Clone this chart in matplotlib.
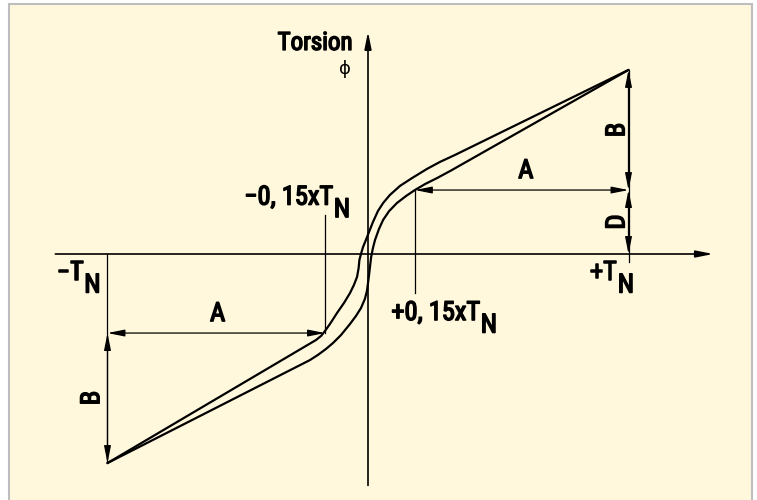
import os
import matplotlib
matplotlib.use("Agg")
import matplotlib.pyplot as plt
from matplotlib.patches import Rectangle, FancyArrowPatch
from matplotlib import font_manager
from matplotlib.font_manager import FontProperties
import matplotlib.patheffects as pe

# ---------------- data (T in units of T_N, phi in same drawing units) ----------------
T_N = [-1.0, 1.0]
corner_phi = [-0.804, 0.708]          # torsion at -T_N / +T_N
knee_T = [-0.165, 0.180]              # about -0.15 T_N / +0.15 T_N
knee_phi = [-0.304, 0.246]

# upper-left branch of the characteristic
upper_T = [-1.0, -0.200, -0.180, -0.165, -0.146, -0.119, -0.092, -0.069, -0.054,
           -0.042, -0.036, -0.033, -0.027, -0.019, -0.008, 0.004, 0.019, 0.038,
           0.058, 0.084, 0.123, 0.169, 0.226, 0.276, 0.334, 1.0]
upper_phi = [-0.804, -0.331, -0.315, -0.296, -0.269, -0.227, -0.188, -0.150, -0.119,
             -0.088, -0.054, -0.023, 0.000, 0.027, 0.054, 0.085, 0.123, 0.165,
             0.196, 0.227, 0.262, 0.292, 0.327, 0.354, 0.381, 0.708]
# lower-right branch
lower_T = [-1.0, -0.223, -0.192, -0.161, -0.134, -0.104, -0.069, -0.046, -0.027,
           -0.012, -0.004, 0.000, 0.004, 0.008, 0.012, 0.019, 0.027, 0.042, 0.058,
           0.081, 0.111, 0.146, 0.180, 0.219, 0.265, 0.315, 1.0]
lower_phi = [-0.804, -0.408, -0.388, -0.365, -0.342, -0.312, -0.269, -0.238, -0.208,
             -0.173, -0.142, -0.112, -0.081, -0.046, -0.012, 0.023, 0.054, 0.096, 0.131,
             0.165, 0.196, 0.223, 0.246, 0.269, 0.292, 0.319, 0.708]

x_axis = [-1.20, 1.325]
y_axis = [-0.89, 0.855]

# ---------------- fonts: look for a narrow sans ----------------
def find_font():
    files = {}
    for f in font_manager.fontManager.ttflist:
        key = os.path.basename(f.fname).lower().replace(" ", "").replace("_", "").replace("-", "")
        files[key] = f.fname
    prefs = ["robotocondensedregular", "robotocondensed", "liberationsansnarrowregular",
             "liberationsansnarrow", "notosanscondensedmedium", "notosanscondensed",
             "opensanscondensedregular", "dejavusanscondensed"]
    for p in prefs:
        for k, v in files.items():
            if k.startswith(p) and "italic" not in k and "oblique" not in k:
                return v
    for k, v in files.items():
        if ("condensed" in k or "narrow" in k) and "italic" not in k and "oblique" not in k \
                and "bold" not in k and "light" not in k and "thin" not in k:
            return v
    return None

FONT_FILE = find_font()

def fp(size):
    if FONT_FILE:
        return FontProperties(fname=FONT_FILE, size=size)
    return FontProperties(family="DejaVu Sans", stretch="condensed", size=size)

fig = plt.figure(figsize=(7.57, 5.0), dpi=100)
fig.patch.set_facecolor("white")
fig.add_artist(Rectangle((9 / 757, -0.02), (752 - 9) / 757, (500 - 4) / 500 + 0.02,
                         transform=fig.transFigure, facecolor="#FFF8DC",
                         edgecolor="#BEBEBE", lw=1.5, zorder=0))
ax = fig.add_axes([0, 0, 1, 1])
ax.set_xlim(-368 / 260.5, (757 - 368) / 260.5)
ax.set_ylim((254 - 500) / 260, 254 / 260)
ax.axis("off")
ax.patch.set_visible(False)

K = "black"

def arrow(p1, p2, style, lw=0.9, ms=12):
    ax.add_patch(FancyArrowPatch(p1, p2, arrowstyle=style, mutation_scale=ms,
                                 lw=lw, color=K, shrinkA=0, shrinkB=0))

HEAD = "head_length=0.85,head_width=0.17"
# coordinate axes
arrow((x_axis[0], 0), (x_axis[1], 0), "-|>," + HEAD, lw=1.2)
arrow((0, y_axis[0]), (0, y_axis[1]), "-|>," + HEAD, lw=1.2)

# characteristic curves
ax.plot(upper_T, upper_phi, color=K, lw=1.6, solid_joinstyle="round", solid_capstyle="round")
ax.plot(lower_T, lower_phi, color=K, lw=1.6, solid_joinstyle="round", solid_capstyle="round")

# extension lines
ax.plot([T_N[1], T_N[1]], [corner_phi[1], -0.03], color=K, lw=0.9)
ax.plot([T_N[0], T_N[0]], [0, corner_phi[0]], color=K, lw=0.9)
ax.plot([knee_T[1], knee_T[1]], [knee_phi[1], -0.15], color=K, lw=0.9)
ax.plot([knee_T[0], knee_T[0]], [0.15, knee_phi[0]], color=K, lw=0.9)

# dimension arrows
D2 = "<|-|>," + HEAD
arrow((knee_T[1], knee_phi[1]), (T_N[1], knee_phi[1]), D2)          # A right
arrow((T_N[1], knee_phi[1]), (T_N[1], corner_phi[1]), D2)           # B right
arrow((T_N[1], 0), (T_N[1], knee_phi[1]), D2)                       # D
arrow((T_N[0], knee_phi[0]), (knee_T[0], knee_phi[0]), D2)          # A left
arrow((T_N[0], knee_phi[0]), (T_N[0], corner_phi[0]), D2)           # B left

FS = 19
STROKE = [pe.withStroke(linewidth=1.1, foreground=K)]
TXT = dict(color=K, fontproperties=fp(FS), path_effects=STROKE)
TXT_T = dict(color=K, fontproperties=fp(18), path_effects=STROKE)

ax.text(-0.203, 0.812, "Torsion", ha="center", va="center", **TXT_T)
ax.text(-0.088, 0.712, "\u03d5", ha="center", va="center", color=K,
        fontproperties=FontProperties(family="DejaVu Sans", size=13))

ax.annotate("A", ((knee_T[1] + T_N[1]) / 2, knee_phi[1]), xytext=(3, 5),
            textcoords="offset points", ha="center", va="bottom", **TXT)
ax.annotate("A", ((knee_T[0] + T_N[0]) / 2, knee_phi[0]), xytext=(1, 5),
            textcoords="offset points", ha="center", va="bottom", **TXT)
ax.annotate("B", (T_N[1], (knee_phi[1] + corner_phi[1]) / 2), xytext=(-8, 0),
            textcoords="offset points", ha="center", va="center", rotation=90, **TXT)
ax.annotate("D", (T_N[1], knee_phi[1] / 2), xytext=(-8, 0),
            textcoords="offset points", ha="center", va="center", rotation=90, **TXT)
ax.annotate("B", (T_N[0], (knee_phi[0] + corner_phi[0]) / 2), xytext=(-11, 0),
            textcoords="offset points", ha="center", va="center", rotation=90, **TXT)

def label_TN(main, x, y):
    ax.text(x, y, main, ha="right", va="baseline", **TXT)
    ax.annotate("N", (x, y), xytext=(0.5, -9), textcoords="offset points",
                ha="left", va="baseline", **TXT)

label_TN("\u2212T", -1.092, -0.100)
label_TN("+T", 0.956, -0.100)
label_TN("\u22120, 15xT", -0.134, 0.190)
label_TN("+0, 15xT", 0.430, -0.254)

fig.savefig("out.png", dpi=100, facecolor="white")
